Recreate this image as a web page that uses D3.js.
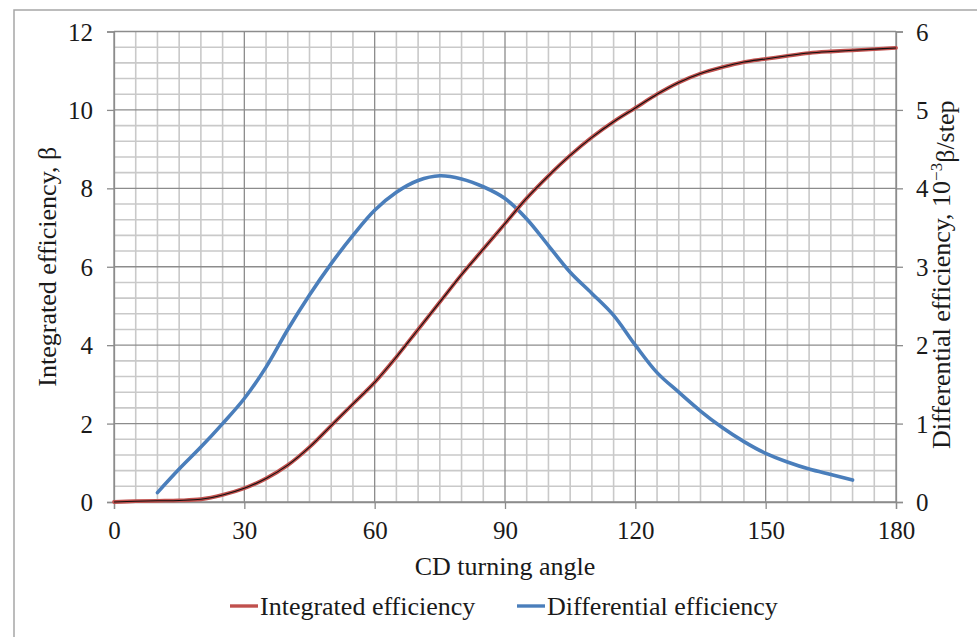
<!DOCTYPE html>
<html>
<head>
<meta charset="utf-8">
<script src="https://cdn.jsdelivr.net/npm/d3@7/dist/d3.min.js"></script>
<style>
  html, body { margin: 0; padding: 0; background: #fff; }
  svg { display: block; }
  text { font-family: "Liberation Serif", "Times New Roman", serif; fill: #1a1a1a; }
</style>
</head>
<body>
<svg id="chart" width="977" height="637"></svg>
<script>
// CD turning angle samples for the integrated curve (degrees)
const integratedAngles = [0, 5, 10, 15, 20, 25, 30, 35, 40, 45, 50, 55, 60, 65, 70, 75, 80, 85, 90,
  95, 100, 105, 110, 115, 120, 125, 130, 135, 140, 145, 150, 155, 160, 165, 170, 175, 180];
// Integrated efficiency, β
const integratedValues = [0, 0.02, 0.03, 0.04, 0.07, 0.18, 0.35, 0.6, 0.94, 1.4, 1.95, 2.5, 3.05, 3.7, 4.4, 5.1, 5.8, 6.45, 7.1,
  7.75, 8.32, 8.84, 9.3, 9.7, 10.05, 10.4, 10.7, 10.93, 11.09, 11.22, 11.3, 11.38, 11.45, 11.49, 11.52, 11.55, 11.58];

// CD turning angle samples for the differential curve (degrees)
const differentialAngles = [10, 15, 20, 25, 30, 35, 40, 45, 50, 55, 60, 65, 70, 75, 80, 85, 90,
  95, 100, 105, 110, 115, 120, 125, 130, 135, 140, 145, 150, 155, 160, 165, 170];
// Differential efficiency, 10^-3 β/step
const differentialValues = [0.12, 0.42, 0.70, 1.00, 1.32, 1.72, 2.20, 2.64, 3.04, 3.40, 3.72, 3.95, 4.10, 4.16, 4.12, 4.02, 3.87,
  3.61, 3.27, 2.93, 2.66, 2.38, 2.00, 1.65, 1.40, 1.16, 0.95, 0.77, 0.62, 0.51, 0.42, 0.35, 0.28];

// Tick labels
const xTicks = [0, 30, 60, 90, 120, 150, 180];
const leftTicks = [0, 2, 4, 6, 8, 10, 12];
const rightTicks = [0, 1, 2, 3, 4, 5, 6];

const seriesNames = ["Integrated efficiency", "Differential efficiency"];
const seriesColors = ["#c0504d", "#4a7ebb"];

const svg = d3.select("#chart");
const W = 977, H = 637;
const plot = { left: 114, right: 896, top: 31.5, bottom: 502 };

const x = d3.scaleLinear().domain([0, 180]).range([plot.left, plot.right]);
const yL = d3.scaleLinear().domain([0, 12]).range([plot.bottom, plot.top]);
const yR = d3.scaleLinear().domain([0, 6]).range([plot.bottom, plot.top]);

// outer frame
svg.append("rect")
  .attr("x", 14).attr("y", 10).attr("width", W + 20).attr("height", H + 20)
  .attr("fill", "#fff").attr("stroke", "#a6a6a6").attr("stroke-width", 1.5);

const grid = svg.append("g");
// minor grid: every 5 degrees, every 0.4 β
const minorX = d3.range(0, 181, 5).filter(d => d % 30 !== 0);
const minorY = d3.range(0, 12.001, 0.4).map(d => +d.toFixed(1)).filter(d => Math.abs(d / 2 - Math.round(d / 2)) > 1e-6);

grid.selectAll(".mx").data(minorX).join("line")
  .attr("x1", d => x(d)).attr("x2", d => x(d))
  .attr("y1", plot.top).attr("y2", plot.bottom)
  .attr("stroke", "#c9c9c9").attr("stroke-width", 1.6);
grid.selectAll(".my").data(minorY).join("line")
  .attr("x1", plot.left).attr("x2", plot.right)
  .attr("y1", d => yL(d)).attr("y2", d => yL(d))
  .attr("stroke", "#c9c9c9").attr("stroke-width", 1.6);
// major grid
grid.selectAll(".Mx").data(xTicks).join("line")
  .attr("x1", d => x(d)).attr("x2", d => x(d))
  .attr("y1", plot.top).attr("y2", plot.bottom)
  .attr("stroke", "#8c8c8c").attr("stroke-width", 1.3);
grid.selectAll(".My").data(leftTicks).join("line")
  .attr("x1", plot.left).attr("x2", plot.right)
  .attr("y1", d => yL(d)).attr("y2", d => yL(d))
  .attr("stroke", "#8c8c8c").attr("stroke-width", 1.3);

// axes
const tickFont = "25px";
const fmt = d3.format("d");
const xAxis = d3.axisBottom(x).tickValues(xTicks).tickFormat(fmt).tickSize(7).tickPadding(12);
const gx = svg.append("g").attr("transform", `translate(0,${plot.bottom})`).call(xAxis);
const leftAxis = d3.axisLeft(yL).tickValues(leftTicks).tickFormat(fmt).tickSize(7).tickPadding(14);
const gl = svg.append("g").attr("transform", `translate(${plot.left},0)`).call(leftAxis);
const rightAxis = d3.axisRight(yR).tickValues(rightTicks).tickFormat(fmt).tickSize(7).tickPadding(13);
const gr = svg.append("g").attr("transform", `translate(${plot.right},0)`).call(rightAxis);
[gx, gl, gr].forEach(g => {
  g.select(".domain").attr("stroke", "#8c8c8c").attr("stroke-width", 1.3);
  g.selectAll(".tick line").attr("stroke", "#8c8c8c").attr("stroke-width", 1.3);
  g.selectAll(".tick text").style("font-size", tickFont)
    .style("font-family", '"Liberation Serif", serif').attr("fill", "#1a1a1a");
});
gl.selectAll(".tick text").attr("dy", "0.34em");
gr.selectAll(".tick text").attr("dy", "0.34em");
gx.selectAll(".tick text").attr("dy", "0.71em");

// series lines
const smooth = d3.curveCatmullRom.alpha(0.5);
const integratedPts = integratedAngles.map((a, i) => [a, integratedValues[i]]);
const differentialPts = differentialAngles.map((a, i) => [a, differentialValues[i]]);

const lineL = d3.line().x(d => x(d[0])).y(d => yL(d[1])).curve(smooth);
const lineR = d3.line().x(d => x(d[0])).y(d => yR(d[1])).curve(smooth);

svg.append("path").datum(differentialPts).attr("d", lineR)
  .attr("fill", "none").attr("stroke", seriesColors[1]).attr("stroke-width", 3.6)
  .attr("stroke-linecap", "round");
svg.append("path").datum(integratedPts).attr("d", lineL)
  .attr("fill", "none").attr("stroke", seriesColors[0]).attr("stroke-width", 3.8)
  .attr("stroke-linecap", "round");
// thin dark trace drawn over the integrated curve
svg.append("path").datum(integratedPts).attr("d", lineL)
  .attr("fill", "none").attr("stroke", "#111").attr("stroke-width", 1.1);

// axis titles
svg.append("text").attr("x", (plot.left + plot.right) / 2).attr("y", 575)
  .attr("text-anchor", "middle").style("font-size", "26px").text("CD turning angle");

svg.append("text")
  .attr("transform", `translate(56,${(plot.top + plot.bottom) / 2}) rotate(-90)`)
  .attr("text-anchor", "middle").style("font-size", "26px")
  .text("Integrated efficiency, β");

const rt = svg.append("text")
  .attr("transform", `translate(950,${(plot.top + plot.bottom) / 2 + 8}) rotate(-90)`)
  .attr("text-anchor", "middle").style("font-size", "26px");
rt.append("tspan").text("Differential efficiency, 10");
rt.append("tspan").attr("dy", "-0.45em").style("font-size", "17px").text("−3");
rt.append("tspan").attr("dy", "0.45em").text("β/step");

// legend
const legend = svg.append("g");
const legendItems = [
  { name: seriesNames[0], color: seriesColors[0], x0: 230 },
  { name: seriesNames[1], color: seriesColors[1], x0: 517 }
];
legendItems.forEach(it => {
  legend.append("line").attr("x1", it.x0).attr("x2", it.x0 + 28)
    .attr("y1", 606).attr("y2", 606)
    .attr("stroke", it.color).attr("stroke-width", 3.4);
  legend.append("text").attr("x", it.x0 + 30).attr("y", 615)
    .style("font-size", "26px").text(it.name);
});
</script>
</body>
</html>
